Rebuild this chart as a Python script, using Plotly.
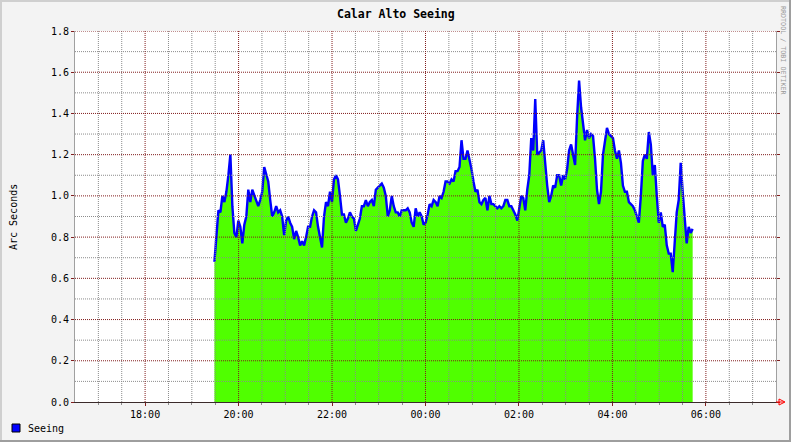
import pandas as pd
import plotly.graph_objects as go

# ---------------- data ----------------
title_text = "Calar Alto Seeing"
y_title = "Arc Seconds"
series_name = "Seeing"
credit_text = "RRDTOOL / TOBI OETIKER"

x_start = "2024-01-01 16:30"
x_end = "2024-01-02 07:30"
data_start = "2024-01-01 19:29"
data_end = "2024-01-02 05:43"

seeing = [
    0.68, 0.82, 0.93, 0.92, 1.00, 0.97, 1.02, 1.10, 1.20, 0.95, 0.82, 0.80, 0.88, 0.85, 0.77, 0.86,
    0.90, 1.03, 0.97, 1.03, 1.00, 0.98, 0.95, 0.98, 1.02, 1.14, 1.10, 1.07, 0.98, 0.90, 0.92, 0.95,
    0.92, 0.93, 0.90, 0.81, 0.88, 0.90, 0.87, 0.85, 0.79, 0.83, 0.80, 0.76, 0.78, 0.76, 0.80, 0.85,
    0.85, 0.90, 0.93, 0.92, 0.85, 0.80, 0.75, 0.90, 0.97, 0.95, 1.02, 0.97, 1.08, 1.10, 1.08, 1.00,
    0.91, 0.91, 0.87, 0.89, 0.92, 0.90, 0.89, 0.83, 0.86, 0.89, 0.95, 0.95, 0.98, 0.95, 0.97, 0.98,
    0.95, 1.03, 1.04, 1.05, 1.06, 1.04, 1.00, 0.90, 0.93, 1.00, 0.95, 0.92, 0.92, 0.90, 0.93, 0.93,
    0.93, 0.94, 0.92, 0.87, 0.85, 0.94, 0.90, 0.92, 0.90, 0.86, 0.87, 0.91, 0.96, 0.95, 0.98, 0.97,
    0.95, 1.00, 0.99, 1.02, 1.07, 1.07, 1.06, 1.08, 1.07, 1.12, 1.12, 1.14, 1.27, 1.18, 1.18, 1.22,
    1.18, 1.13, 1.07, 1.02, 1.03, 0.97, 0.96, 0.98, 0.99, 0.93, 1.00, 0.96, 0.96, 0.95, 0.94, 0.95,
    0.94, 0.95, 0.98, 0.98, 0.95,
    0.95, 0.93, 0.91, 0.88, 0.95, 1.00, 0.99, 0.93, 1.03, 1.10, 1.28, 1.22, 1.47, 1.20, 1.21, 1.22,
    1.27, 1.15, 1.05, 0.97, 1.00, 1.05, 1.04, 1.10, 1.10, 1.05, 1.10, 1.08, 1.13, 1.22, 1.25, 1.20,
    1.15, 1.38, 1.56, 1.43, 1.35, 1.27, 1.32, 1.28, 1.30, 1.29, 1.18, 1.03, 0.96, 1.02, 1.20, 1.28,
    1.33, 1.30, 1.29, 1.28, 1.22, 1.18, 1.22, 1.16, 1.05, 1.02, 1.02, 0.97, 0.96, 0.95, 0.93, 0.90,
    0.87, 1.00, 1.17, 1.20, 1.18, 1.31, 1.25, 1.10, 1.15, 1.00, 0.87, 0.92, 0.85, 0.86, 0.76, 0.72,
    0.72, 0.63, 0.80, 0.92, 0.98, 1.16, 1.02, 0.88, 0.77, 0.85, 0.82, 0.84,
]

x_tick_times = ["2024-01-01 18:00", "2024-01-01 20:00", "2024-01-01 22:00", "2024-01-02 00:00",
                "2024-01-02 02:00", "2024-01-02 04:00", "2024-01-02 06:00"]
x_tick_labels = ["18:00", "20:00", "22:00", "00:00", "02:00", "04:00", "06:00"]
y_tick_values = [0.0, 0.2, 0.4, 0.6, 0.8, 1.0, 1.2, 1.4, 1.6, 1.8]
y_tick_labels = ["0.0", "0.2", "0.4", "0.6", "0.8", "1.0", "1.2", "1.4", "1.6", "1.8"]
y_minor_values = [0.1, 0.3, 0.5, 0.7, 0.9, 1.1, 1.3, 1.5, 1.7]

times = pd.date_range(data_start, data_end, periods=len(seeing))
x_minor_times = [t for t in pd.date_range(x_start, x_end, freq="30min")[1:-1]
                 if t.strftime("%Y-%m-%d %H:%M") not in x_tick_times]

# ---------------- layout helpers ----------------
W, H = 791, 442
L, R, T, B = 75, 776, 31, 402
def px(x):
    return (x - L) / (R - L)
def py(y):
    return (B - y) / (B - T)

FONT = "DejaVu Sans Mono"
GRID = "#8C8C8C"
MGRID = "#821E1E"

fig = go.Figure()
fig.add_trace(go.Scatter(
    x=times, y=seeing, mode="lines", name=series_name,
    line=dict(color="#0000FF", width=2.4),
    fill="tozeroy", fillcolor="#50FF00",
    showlegend=False, hoverinfo="skip",
))

shapes = []
# grid drawn above traces (as in rrdtool)
for t in x_minor_times:
    shapes.append(dict(type="line", xref="x", yref="y", x0=t, x1=t, y0=0, y1=1.8,
                       line=dict(color=GRID, width=1, dash="1px,1px"), layer="above"))
for v in y_minor_values:
    shapes.append(dict(type="line", xref="x", yref="y", x0=x_start, x1=x_end, y0=v, y1=v,
                       line=dict(color=GRID, width=1, dash="1px,1px"), layer="above"))
for t in x_tick_times:
    shapes.append(dict(type="line", xref="x", yref="y", x0=t, x1=t, y0=0, y1=1.8,
                       line=dict(color=MGRID, width=1, dash="1px,1px"), layer="above"))
for v in y_tick_values[1:]:
    shapes.append(dict(type="line", xref="x", yref="y", x0=x_start, x1=x_end, y0=v, y1=v,
                       line=dict(color=MGRID, width=1, dash="1px,1px"), layer="above"))

# arrow at end of x axis
shapes.append(dict(type="path", xref="paper", yref="paper",
                   path=f"M {px(776)},{py(402)} L {px(784)},{py(402)} M {px(779)},{py(399)} "
                        f"L {px(785)},{py(402)} L {px(779)},{py(405)} Z",
                   line=dict(color="#FF0000", width=1), fillcolor="rgba(0,0,0,0)"))
# image border (3D shade)
shapes += [
    dict(type="rect", xref="paper", yref="paper", x0=px(0), x1=px(W), y0=py(0), y1=py(2),
         fillcolor="#CFCFCF", line=dict(width=0), layer="above"),
    dict(type="rect", xref="paper", yref="paper", x0=px(0), x1=px(2), y0=py(0), y1=py(H),
         fillcolor="#CFCFCF", line=dict(width=0), layer="above"),
    dict(type="rect", xref="paper", yref="paper", x0=px(0), x1=px(W), y0=py(H - 2), y1=py(H),
         fillcolor="#9E9E9E", line=dict(width=0), layer="above"),
    dict(type="rect", xref="paper", yref="paper", x0=px(W - 2), x1=px(W), y0=py(0), y1=py(H),
         fillcolor="#9E9E9E", line=dict(width=0), layer="above"),
]
# legend box
shapes.append(dict(type="rect", xref="paper", yref="paper", x0=px(12), x1=px(20), y0=py(424), y1=py(432),
                   fillcolor="#0000FF", line=dict(color="#000000", width=1)))

annotations = [
    dict(text=f"<b>{title_text}</b>", xref="paper", yref="paper", x=px(396), y=py(14),
         xanchor="center", yanchor="middle", showarrow=False,
         font=dict(family=FONT, size=11.5, color="#000000")),
    dict(text=y_title, xref="paper", yref="paper", x=px(13), y=py(217), textangle=-90,
         xanchor="center", yanchor="middle", showarrow=False,
         font=dict(family=FONT, size=10, color="#000000")),
    dict(text=series_name, xref="paper", yref="paper", x=px(26), y=py(428),
         xanchor="left", yanchor="middle", showarrow=False,
         font=dict(family=FONT, size=10, color="#000000")),
    dict(text=credit_text, xref="paper", yref="paper", x=px(783), y=py(4), textangle=90,
         xanchor="center", yanchor="top", showarrow=False,
         font=dict(family=FONT, size=6.7, color="#999999")),
]

fig.update_layout(
    width=W, height=H, autosize=False,
    margin=dict(l=L, r=W - R, t=T, b=H - B, pad=0),
    paper_bgcolor="#F3F3F3", plot_bgcolor="#FFFFFF",
    shapes=shapes, annotations=annotations, showlegend=False,
    xaxis=dict(
        type="date", range=[x_start, x_end], tickmode="array",
        tickvals=x_tick_times, ticktext=x_tick_labels,
        ticks="outside", ticklen=3, tickcolor=MGRID, tickwidth=1,
        showgrid=False, zeroline=False, showline=True, linecolor="#3A2A2A", linewidth=1,
        tickfont=dict(family=FONT, size=10, color="#000000"),
        minor=dict(tickmode="array", tickvals=x_minor_times, ticks="outside", ticklen=2,
                   tickcolor=GRID, showgrid=False),
        fixedrange=True,
    ),
    yaxis=dict(
        range=[0, 1.8], tickmode="array", tickvals=y_tick_values, ticktext=y_tick_labels,
        ticks="outside", ticklen=3, tickcolor=MGRID, tickwidth=1,
        showgrid=False, zeroline=False, showline=True, linecolor="#A0A0A0", linewidth=1,
        mirror="ticks",
        tickfont=dict(family=FONT, size=10, color="#000000"),
        fixedrange=True,
    ),
)

fig.write_html(
    "out.html",
    config={"displayModeBar": False},
    post_script="document.body.style.margin='0';document.body.style.padding='0';",
)
